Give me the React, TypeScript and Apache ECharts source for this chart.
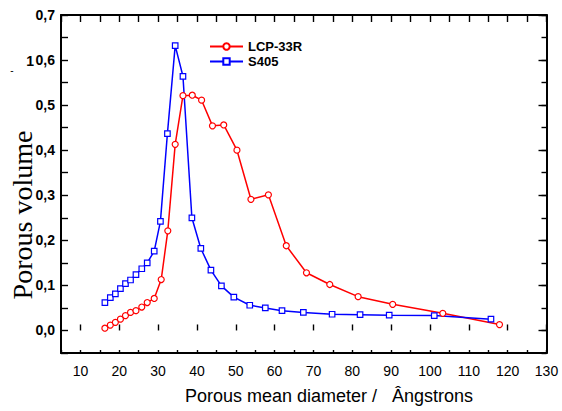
import React, { useEffect, useRef } from "react";
import * as echarts from "echarts";

// ---- data ----
const lcpX = [16.3, 17.7, 19.0, 20.3, 21.6, 22.9, 24.3, 25.8, 27.2, 29.0, 30.8, 32.5, 34.4, 36.4, 38.8, 41.2, 44.0, 46.9, 50.3, 53.9, 58.4, 63.0, 68.2, 74.2, 81.5, 90.4, 103.3, 117.9];
const lcpY = [0.005, 0.012, 0.018, 0.025, 0.033, 0.040, 0.044, 0.052, 0.062, 0.071, 0.113, 0.221, 0.413, 0.521, 0.522, 0.511, 0.454, 0.456, 0.400, 0.291, 0.301, 0.188, 0.128, 0.102, 0.075, 0.058, 0.038, 0.013];
const s405X = [16.3, 17.7, 19.0, 20.3, 21.6, 22.9, 24.3, 25.8, 27.2, 29.0, 30.6, 32.4, 34.4, 36.4, 38.7, 41.0, 43.6, 46.3, 49.5, 53.6, 57.6, 61.9, 67.4, 74.8, 82.0, 89.5, 101.1, 115.7];
const s405Y = [0.062, 0.073, 0.081, 0.093, 0.104, 0.112, 0.124, 0.137, 0.150, 0.176, 0.242, 0.437, 0.632, 0.564, 0.250, 0.182, 0.134, 0.099, 0.074, 0.056, 0.050, 0.044, 0.040, 0.036, 0.035, 0.034, 0.033, 0.025];
const seriesNames = ["LCP-33R", "S405"];
const xAxisTitle = "Porous mean diameter /   Ângstrons";
const yAxisTitle = "Porous volume";

const X_MIN = 5, X_MAX = 130, X_STEP = 5, X_LABEL_MIN = 10, X_LABEL_STEP = 10;
const Y_MIN = -0.05, Y_MAX = 0.7, Y_STEP = 0.05, Y_LABEL_MIN = 0, Y_LABEL_STEP = 0.1;

const W = 562, H = 411;
const G_L = 61, G_R = 15.5, G_T = 15, G_B = 58;

export default function App() {
  const ref = useRef<HTMLDivElement>(null);
  useEffect(() => {
    if (!ref.current) return;
    const chart = echarts.init(ref.current, null, { renderer: "svg" });
    const pxX = (W - G_L - G_R) / (X_MAX - X_MIN);
    const pxY = (H - G_T - G_B) / (Y_MAX - Y_MIN);
    const left1 = G_L + (X_LABEL_MIN - X_MIN) * pxX;
    const bottom2 = G_B + (Y_LABEL_MIN - Y_MIN) * pxY;
    const black = "#000";
    const frameLine = { show: true, onZero: false, lineStyle: { color: black, width: 2 } };
    const tick = (len: number) => ({ show: true, inside: true, length: len, lineStyle: { color: black, width: 1.4 } });
    const font = "Liberation Sans";

    chart.setOption({
      animation: false,
      backgroundColor: "#fff",
      grid: [
        { left: G_L, right: G_R, top: G_T, bottom: G_B },
        { left: left1, right: G_R, top: G_T, bottom: G_B },
        { left: G_L, right: G_R, top: G_T, bottom: bottom2 },
      ],
      xAxis: [
        { gridIndex: 0, type: "value", min: X_MIN, max: X_MAX, interval: X_STEP, position: "bottom", axisLine: frameLine, axisTick: tick(3), axisLabel: { show: false }, splitLine: { show: false } },
        { gridIndex: 0, type: "value", min: X_MIN, max: X_MAX, interval: X_STEP, position: "top", axisLine: frameLine, axisTick: tick(7), axisLabel: { show: false }, splitLine: { show: false } },
        { gridIndex: 1, type: "value", min: X_LABEL_MIN, max: X_MAX, interval: X_LABEL_STEP, position: "bottom", axisLine: { show: false }, axisTick: tick(6), axisLabel: { margin: 11, fontSize: 14, color: black, fontFamily: font }, splitLine: { show: false } },
        { gridIndex: 2, type: "value", min: X_MIN, max: X_MAX, show: false },
      ],
      yAxis: [
        { gridIndex: 0, type: "value", min: Y_MIN, max: Y_MAX, interval: Y_STEP, position: "left", axisLine: frameLine, axisTick: tick(7), axisLabel: { show: false }, splitLine: { show: false } },
        { gridIndex: 0, type: "value", min: Y_MIN, max: Y_MAX, interval: Y_STEP, position: "right", axisLine: frameLine, axisTick: tick(5), axisLabel: { show: false }, splitLine: { show: false } },
        { gridIndex: 1, type: "value", min: Y_MIN, max: Y_MAX, show: false },
        {
          gridIndex: 2, type: "value", min: Y_LABEL_MIN, max: Y_MAX, interval: Y_LABEL_STEP, position: "left",
          axisLine: { show: false }, axisTick: { show: false }, splitLine: { show: false },
          axisLabel: { margin: 6, fontSize: 14, fontWeight: "bold", color: black, fontFamily: font, formatter: (v: number) => v.toFixed(1).replace(".", ",") },
        },
        { gridIndex: 2, type: "value", min: Y_LABEL_MIN, max: Y_MAX, interval: Y_LABEL_STEP, position: "right", axisLine: { show: false }, axisTick: tick(8), axisLabel: { show: false }, splitLine: { show: false } },
      ],
      legend: {
        orient: "vertical",
        left: 209,
        top: 40,
        padding: 0,
        itemWidth: 33,
        itemHeight: 8,
        itemGap: 2,
        data: seriesNames,
        textStyle: { fontSize: 13, fontWeight: "bold", color: black, fontFamily: font },
      },
      series: [
        {
          name: seriesNames[0], type: "line", xAxisIndex: 0, yAxisIndex: 0,
          data: lcpX.map((x, i) => [x, lcpY[i]]),
          symbol: "circle", symbolSize: 6, showAllSymbol: true,
          lineStyle: { color: "#ff0000", width: 1.5 },
          itemStyle: { color: "#fff", borderColor: "#ff0000", borderWidth: 1.2 },
        },
        {
          name: seriesNames[1], type: "line", xAxisIndex: 0, yAxisIndex: 0,
          data: s405X.map((x, i) => [x, s405Y[i]]),
          symbol: "rect", symbolSize: 5.5, showAllSymbol: true,
          lineStyle: { color: "#0000ff", width: 1.5 },
          itemStyle: { color: "#fff", borderColor: "#0000ff", borderWidth: 1.2 },
        },
      ],
      graphic: [
        { type: "text", x: 329, y: 396, style: { text: xAxisTitle, fontSize: 18, fontFamily: font, fill: black, align: "center", verticalAlign: "middle" } },
        { type: "text", x: 22, y: 215, rotation: Math.PI / 2, style: { text: yAxisTitle, fontSize: 28, fontFamily: "Liberation Serif", fill: black, align: "center", verticalAlign: "middle" } },
        { type: "text", x: 34, y: 61, style: { text: "1", fontSize: 14, fontWeight: "bold", fontFamily: font, fill: black, align: "right", verticalAlign: "middle" } },
        { type: "text", x: 12, y: 70, style: { text: "-", fontSize: 10, fontFamily: font, fill: black, align: "center", verticalAlign: "middle" } },
      ],
    });
    return () => chart.dispose();
  }, []);
  return <div ref={ref} style={{ position: "fixed", left: 0, top: 0, width: W, height: H, background: "#fff" }} />;
}
